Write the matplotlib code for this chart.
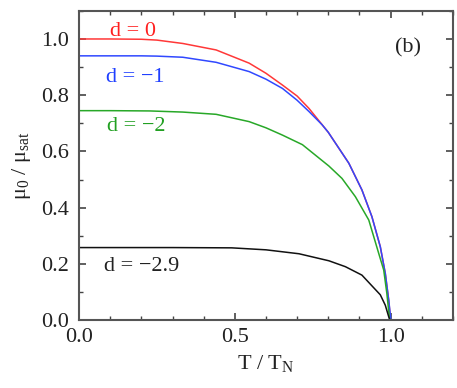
import numpy as np
import matplotlib.pyplot as plt
from matplotlib.ticker import MultipleLocator

# reduced temperature T / T_N and normalised moment
t_d0 = [0.0, 0.1, 0.2, 0.25, 0.333, 0.44, 0.546, 0.6, 0.653, 0.7, 0.738, 0.8, 0.866, 0.908, 0.94, 0.967, 0.983, 0.994, 1.0]
mu_d0 = [1.0, 1.0, 0.999, 0.996, 0.984, 0.961, 0.914, 0.878, 0.836, 0.797, 0.753, 0.668, 0.558, 0.463, 0.368, 0.261, 0.166, 0.071, 0.0]

t_d1 = [0.0, 0.1, 0.2, 0.25, 0.333, 0.44, 0.546, 0.6, 0.653, 0.7, 0.738, 0.78, 0.8, 0.866, 0.908, 0.94, 0.967, 0.983, 0.994, 1.001]
mu_d1 = [0.94, 0.94, 0.94, 0.939, 0.935, 0.917, 0.884, 0.857, 0.824, 0.782, 0.742, 0.695, 0.668, 0.558, 0.463, 0.368, 0.261, 0.166, 0.071, 0.0]

t_d2 = [0.0, 0.1, 0.227, 0.333, 0.44, 0.546, 0.6, 0.653, 0.717, 0.802, 0.844, 0.887, 0.93, 0.962, 0.978, 0.988, 0.997]
mu_d2 = [0.745, 0.745, 0.744, 0.740, 0.732, 0.706, 0.684, 0.658, 0.624, 0.548, 0.504, 0.439, 0.356, 0.237, 0.178, 0.095, 0.0]

t_d29 = [0.0, 0.3, 0.49, 0.6, 0.706, 0.802, 0.855, 0.908, 0.94, 0.967, 0.983, 0.994, 0.998]
mu_d29 = [0.258, 0.258, 0.257, 0.250, 0.236, 0.211, 0.190, 0.160, 0.122, 0.090, 0.053, 0.012, 0.0]

plt.rcParams['font.family'] = ['Liberation Serif', 'DejaVu Serif']
plt.rcParams['mathtext.fontset'] = 'custom'
plt.rcParams['mathtext.rm'] = 'Liberation Serif'
plt.rcParams['mathtext.it'] = 'Liberation Serif'

fig = plt.figure(figsize=(4.57, 3.88), dpi=100)
ax = fig.add_axes([0.173, 0.175, 0.818, 0.797])

ax.plot(t_d0, mu_d0, color='#ff3838', lw=1.1)
ax.plot(t_d1, mu_d1, color='#3048ff', lw=1.1)
ax.plot(t_d2, mu_d2, color='#28a828', lw=1.1)
ax.plot(t_d29, mu_d29, color='#111111', lw=1.1)

fs = 16
ax.text(0.173, 1.028, 'd = 0', color='#ff2020', fontsize=fs, ha='center', va='center')
ax.text(0.179, 0.863, 'd = \u22121', color='#2040ff', fontsize=fs, ha='center', va='center')
ax.text(0.182, 0.687, 'd = \u22122', color='#22a022', fontsize=fs, ha='center', va='center')
ax.text(0.200, 0.192, 'd = \u22122.9', color='#222222', fontsize=fs, ha='center', va='center')
ax.text(1.057, 0.970, '(b)', color='#222222', fontsize=fs, ha='center', va='center')

ax.set_xlim(0, 1.2)
ax.set_ylim(0, 1.1)
ax.xaxis.set_major_locator(MultipleLocator(0.5))
ax.xaxis.set_minor_locator(MultipleLocator(0.1))
ax.yaxis.set_major_locator(MultipleLocator(0.2))
ax.yaxis.set_minor_locator(MultipleLocator(0.1))
ax.xaxis.set_major_formatter(plt.FuncFormatter(lambda v, p: f'{v:.1f}'))
ax.yaxis.set_major_formatter(plt.FuncFormatter(lambda v, p: f'{v:.1f}'))
ax.tick_params(which='both', direction='in', top=True, right=True,
               color='#444444', labelsize=fs, labelcolor='#222222')
ax.tick_params(which='major', length=5, width=1.2, pad=7)
ax.tick_params(axis='x', which='major', pad=6)
ax.tick_params(which='minor', length=3, width=1.0)
for s in ax.spines.values():
    s.set_linewidth(1.5)
    s.set_color('#555555')

ax.set_xlabel('T / T$_{\\rm N}$', fontsize=fs, color='#222222', labelpad=4)
ax.set_ylabel('\u03bc$_0$ / \u03bc$_{\\rm sat}$', fontsize=fs, color='#222222', labelpad=6)

fig.savefig('out.png', dpi=100)
